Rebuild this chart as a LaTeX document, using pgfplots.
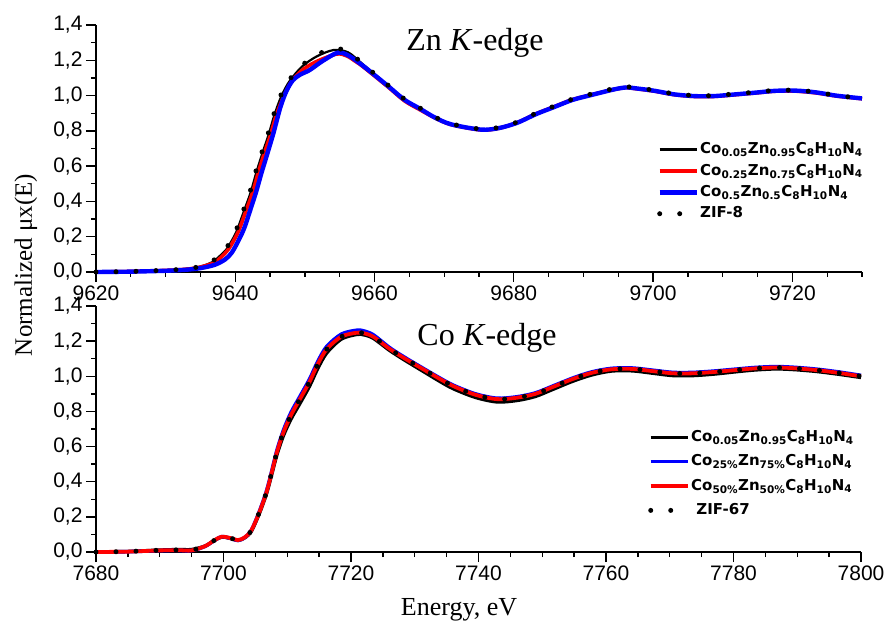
\documentclass[border=0pt]{standalone}
\usepackage{pgfplots}
\pgfplotsset{compat=1.18}
\usepackage{fontspec}
\setmainfont{Liberation Serif}
\setsansfont{Liberation Sans}
\newfontfamily\legfont{DejaVu Sans}

\newcommand{\cz}[2]{Co\textsubscript{#1}Zn\textsubscript{#2}C\textsubscript{8}H\textsubscript{10}N\textsubscript{4}}

\pgfplotsset{
  xas/.style={
    width=766pt, height=247pt, scale only axis,
    axis lines*=left, axis line style={line width=1.4pt},
    tick align=outside, major tick length=10pt, minor tick length=5pt,
    every tick/.style={line width=1.3pt, black},
    ymin=0, ymax=1.4, ytick={0,0.2,...,1.4}, minor ytick={0.1,0.3,...,1.3},
    ticklabel style={font=\sffamily\fontsize{21}{21}\selectfont},
    /pgf/number format/assume math mode=true,
    yticklabel style={/pgf/number format/.cd, fixed, fixed zerofill, precision=1, use comma},
    xticklabel style={/pgf/number format/set thousands separator={}},
    clip=false,
    legend cell align=left,
    legend image code/.code={\draw[##1] (0pt,0pt) -- (37pt,0pt);},
  },
  kk/.style={black, line width=2.2pt, smooth},
  rr/.style={red, line width=3.6pt, smooth},
  bb/.style={blue, line width=4.4pt, smooth},
  dd/.style={black, line width=5pt, line cap=round, dash pattern=on 0pt off 20pt, smooth},
}

\begin{document}
\begin{tikzpicture}
\useasboundingbox (-96pt,-69pt) rectangle (790pt,552pt);

% Zn K-edge
\begin{axis}[xas, at={(0pt,280pt)}, anchor=south west,
  xmin=9620, xmax=9730, xtick={9620,9640,...,9720}, minor xtick={9625,9630,...,9730},
  legend style={at={(0.7324,0.530)}, anchor=north west, draw=none, fill=none, inner sep=0pt,
    row sep=4.9pt, font=\legfont\bfseries\fontsize{15}{16}\selectfont,
    nodes={inner sep=1pt, text height=11.5pt, text depth=3pt}}]
\addplot[kk] coordinates {
(9620,0.000) (9625,0.003) (9630,0.010) (9633,0.018) (9635,0.031) (9636.7,0.056)
(9637.7,0.088) (9638.7,0.127) (9639.5,0.178) (9640.2,0.232) (9641.2,0.340)
(9642.2,0.450) (9643.0,0.561) (9643.9,0.674) (9644.8,0.780) (9645.6,0.888)
(9646.6,0.995) (9647.8,1.082) (9649.6,1.165) (9651.7,1.222) (9654.1,1.258)
(9656.2,1.245) (9658.3,1.178) (9661.9,1.058) (9664.3,0.978) (9666.5,0.928)
(9668.6,0.879) (9671,0.839) (9675.3,0.809) (9677.9,0.819) (9680.5,0.849)
(9683.2,0.898) (9685.8,0.938) (9688.4,0.978) (9691.3,1.008) (9694.4,1.038)
(9696.1,1.048) (9697.3,1.044) (9700.2,1.029) (9703,1.009) (9705.9,0.999)
(9708.7,0.999) (9711.9,1.009) (9714.8,1.019) (9717.6,1.029) (9720.5,1.029)
(9723.4,1.019) (9726.4,1.000) (9730,0.985)
};
\addlegendentry{\cz{0.05}{0.95}}
\addplot[rr] coordinates {
(9620,0.000) (9625,0.003) (9630,0.009) (9633,0.016) (9635,0.028) (9637,0.053)
(9638,0.085) (9639,0.128) (9639.8,0.180) (9640.5,0.234) (9641.5,0.342)
(9642.5,0.452) (9643.3,0.563) (9644.2,0.676) (9645.1,0.782) (9645.9,0.890)
(9646.9,0.990) (9648,1.075) (9649.5,1.140) (9651.5,1.190) (9654.5,1.235)
(9656,1.225) (9657.4,1.190) (9658.3,1.165) (9661.9,1.050) (9664.3,0.970)
(9666.5,0.920) (9668.6,0.875) (9671,0.835) (9675.3,0.805) (9677.9,0.815)
(9680.5,0.847) (9683.2,0.897) (9685.8,0.937) (9688.4,0.977) (9691.3,1.006)
(9694.4,1.035) (9696.1,1.045) (9697.3,1.040) (9700.2,1.025) (9703,1.005)
(9705.9,0.995) (9708.7,0.995) (9711.9,1.005) (9714.8,1.015) (9717.6,1.025)
(9720.5,1.025) (9723.4,1.015) (9726.4,0.997) (9730,0.982)
};
\addlegendentry{\cz{0.25}{0.75}}
\addplot[bb] coordinates {
(9620,0.000) (9625,0.002) (9630,0.007) (9633,0.013) (9635,0.022) (9637,0.040)
(9638.5,0.070) (9639.5,0.110) (9640.5,0.181) (9641.3,0.250) (9642.1,0.345)
(9643,0.455) (9643.75,0.560) (9644.6,0.670) (9645.5,0.790) (9646.5,0.937)
(9647.4,1.030) (9648.3,1.088) (9649.3,1.118) (9650.7,1.145) (9652.5,1.195)
(9654.7,1.243) (9656.2,1.228) (9658.3,1.170) (9661.9,1.055) (9664.3,0.976)
(9666.5,0.926) (9668.6,0.877) (9671,0.837) (9675.3,0.807) (9677.9,0.816)
(9680.5,0.846) (9683.2,0.895) (9685.8,0.935) (9688.4,0.975) (9691.3,1.005)
(9694.4,1.035) (9696.1,1.046) (9697.3,1.042) (9700.2,1.027) (9703,1.007)
(9705.9,0.997) (9708.7,0.997) (9711.9,1.007) (9714.8,1.017) (9717.6,1.027)
(9720.5,1.028) (9723.4,1.018) (9726.4,0.999) (9730,0.984)
};
\addlegendentry{\cz{0.5}{0.5}}
\addplot[dd] coordinates {
(9620,0.000) (9625,0.003) (9630,0.010) (9633,0.018) (9635,0.032) (9636.6,0.058)
(9637.6,0.090) (9638.6,0.129) (9639.4,0.180) (9640.1,0.234) (9641.1,0.342)
(9642.1,0.452) (9642.9,0.563) (9643.8,0.676) (9644.7,0.782) (9645.5,0.890)
(9646.5,0.998) (9647.7,1.085) (9649.5,1.168) (9651.6,1.226) (9653.9,1.268)
(9656.2,1.249) (9658.3,1.180) (9661.9,1.060) (9664.3,0.980) (9666.5,0.930)
(9668.6,0.880) (9671,0.840) (9675.3,0.810) (9677.9,0.820) (9680.5,0.850)
(9683.2,0.900) (9685.8,0.940) (9688.4,0.980) (9691.3,1.010) (9694.4,1.040)
(9696.1,1.050) (9697.3,1.045) (9700.2,1.030) (9703,1.010) (9705.9,1.000)
(9708.7,1.000) (9711.9,1.010) (9714.8,1.020) (9717.6,1.030) (9720.5,1.030)
(9723.4,1.020) (9726.4,1.000) (9730,0.985)
};
\addlegendentry{ZIF-8}
\end{axis}

% Co K-edge
\begin{axis}[xas, at={(0pt,0pt)}, anchor=south west, width=765pt, height=246pt,
  xmin=7680, xmax=7800, xtick={7680,7700,...,7800}, minor xtick={7685,7690,...,7795},
  legend style={at={(0.7216,0.501)}, anchor=north west, draw=none, fill=none, inner sep=0pt,
    row sep=7.9pt, font=\legfont\bfseries\fontsize{15}{16}\selectfont,
    nodes={inner sep=1pt, text height=11.5pt, text depth=3pt}}]
\addplot[black, line width=3.4pt, smooth] coordinates {
(7680,0.000) (7685,0.003) (7690,0.011) (7693,0.014) (7695,0.014) (7697.1,0.034)
(7698.5,0.064) (7699.7,0.085) (7701,0.078) (7702.3,0.066) (7703.4,0.082)
(7704.4,0.120) (7705.7,0.226) (7706.8,0.338) (7707.6,0.446) (7708.4,0.556)
(7709.4,0.662) (7710.6,0.757) (7712.0,0.846) (7713.5,0.944) (7714.8,1.045)
(7716.2,1.133) (7718.5,1.212) (7720.9,1.238) (7722,1.236) (7723.5,1.216)
(7726.1,1.146) (7728.5,1.090) (7731.1,1.033) (7733.7,0.976) (7736,0.930)
(7739.5,0.880) (7742.9,0.854) (7746,0.862) (7748.9,0.885) (7751.7,0.926)
(7754.8,0.972) (7757.8,1.008) (7760.9,1.030) (7764.1,1.031) (7767.2,1.018)
(7770.5,1.004) (7773.7,1.004) (7777.1,1.013) (7780.2,1.025) (7783.4,1.036)
(7786.8,1.042) (7789.9,1.037) (7793.1,1.027) (7796.4,1.012) (7800,0.993)
};
\addlegendentry{\cz{0.05}{0.95}}
\addplot[blue, line width=3.6pt, smooth] coordinates {
(7680,0.000) (7685,0.002) (7690,0.008) (7693,0.009) (7695,0.008) (7697.1,0.032)
(7698.5,0.064) (7699.7,0.087) (7701,0.079) (7702.3,0.066) (7703.4,0.084)
(7704.4,0.126) (7705.7,0.238) (7706.8,0.354) (7707.6,0.466) (7708.4,0.581)
(7709.4,0.693) (7710.6,0.795) (7712.0,0.886) (7713.5,0.984) (7714.8,1.085)
(7716.2,1.170) (7718.5,1.240) (7720.9,1.262) (7722,1.258) (7723.5,1.236)
(7726.1,1.162) (7728.5,1.106) (7731.1,1.050) (7733.7,0.995) (7736,0.950)
(7739.5,0.900) (7742.9,0.875) (7746,0.883) (7748.9,0.905) (7751.7,0.945)
(7754.8,0.990) (7757.8,1.025) (7760.9,1.045) (7764.1,1.047) (7767.2,1.035)
(7770.5,1.022) (7773.7,1.022) (7777.1,1.030) (7780.2,1.040) (7783.4,1.050)
(7786.8,1.055) (7789.9,1.050) (7793.1,1.040) (7796.4,1.025) (7800,1.005)
};
\addlegendentry{Co\textsubscript{25\%}Zn\textsubscript{75\%}C\textsubscript{8}H\textsubscript{10}N\textsubscript{4}}
\addplot[red, line width=3.8pt, smooth] coordinates {
(7680,0.000) (7685,0.002) (7690,0.009) (7693,0.010) (7695,0.009) (7697.1,0.033)
(7698.5,0.065) (7699.7,0.087) (7701,0.080) (7702.3,0.068) (7703.4,0.085)
(7704.4,0.125) (7705.7,0.233) (7706.8,0.347) (7707.6,0.457) (7708.4,0.571)
(7709.4,0.681) (7710.6,0.780) (7712.0,0.871) (7713.5,0.969) (7714.8,1.070)
(7716.2,1.155) (7718.5,1.226) (7720.9,1.248) (7722,1.245) (7723.5,1.225)
(7726.1,1.155) (7728.5,1.100) (7731.1,1.045) (7733.7,0.990) (7736,0.945)
(7739.5,0.895) (7742.9,0.870) (7746,0.878) (7748.9,0.900) (7751.7,0.940)
(7754.8,0.985) (7757.8,1.020) (7760.9,1.040) (7764.1,1.042) (7767.2,1.030)
(7770.5,1.017) (7773.7,1.017) (7777.1,1.025) (7780.2,1.035) (7783.4,1.045)
(7786.8,1.050) (7789.9,1.045) (7793.1,1.035) (7796.4,1.020) (7800,1.000)
};
\addlegendentry{Co\textsubscript{50\%}Zn\textsubscript{50\%}C\textsubscript{8}H\textsubscript{10}N\textsubscript{4}}
\addplot[dd] coordinates {
(7680,0.000) (7685,0.003) (7690,0.010) (7693,0.012) (7695,0.011) (7697.1,0.034)
(7698.5,0.065) (7699.7,0.087) (7701,0.080) (7702.3,0.068) (7703.4,0.085)
(7704.4,0.125) (7705.7,0.233) (7706.8,0.347) (7707.6,0.457) (7708.4,0.571)
(7709.4,0.681) (7710.6,0.780) (7712.0,0.871) (7713.5,0.969) (7714.8,1.070)
(7716.2,1.155) (7718.5,1.226) (7720.9,1.248) (7722,1.245) (7723.5,1.225)
(7726.1,1.155) (7728.5,1.100) (7731.1,1.045) (7733.7,0.990) (7736,0.945)
(7739.5,0.895) (7742.9,0.870) (7746,0.878) (7748.9,0.900) (7751.7,0.940)
(7754.8,0.985) (7757.8,1.020) (7760.9,1.040) (7764.1,1.042) (7767.2,1.030)
(7770.5,1.017) (7773.7,1.017) (7777.1,1.025) (7780.2,1.035) (7783.4,1.045)
(7786.8,1.050) (7789.9,1.045) (7793.1,1.035) (7796.4,1.020) (7800,1.000)
};
\addlegendentry{\ ZIF-67}
\end{axis}

\node[anchor=base, font=\fontsize{32}{32}\selectfont] at (379pt,501pt) {Zn \textit{K}-edge};
\node[anchor=base, font=\fontsize{32}{32}\selectfont] at (391pt,206pt) {Co \textit{K}-edge};
\node[rotate=90, font=\fontsize{25}{25}\selectfont] at (-70pt,287pt) {Normalized μx(E)};
\node[anchor=base, font=\fontsize{26}{26}\selectfont] at (363pt,-63pt) {Energy, eV};
\end{tikzpicture}
\end{document}
